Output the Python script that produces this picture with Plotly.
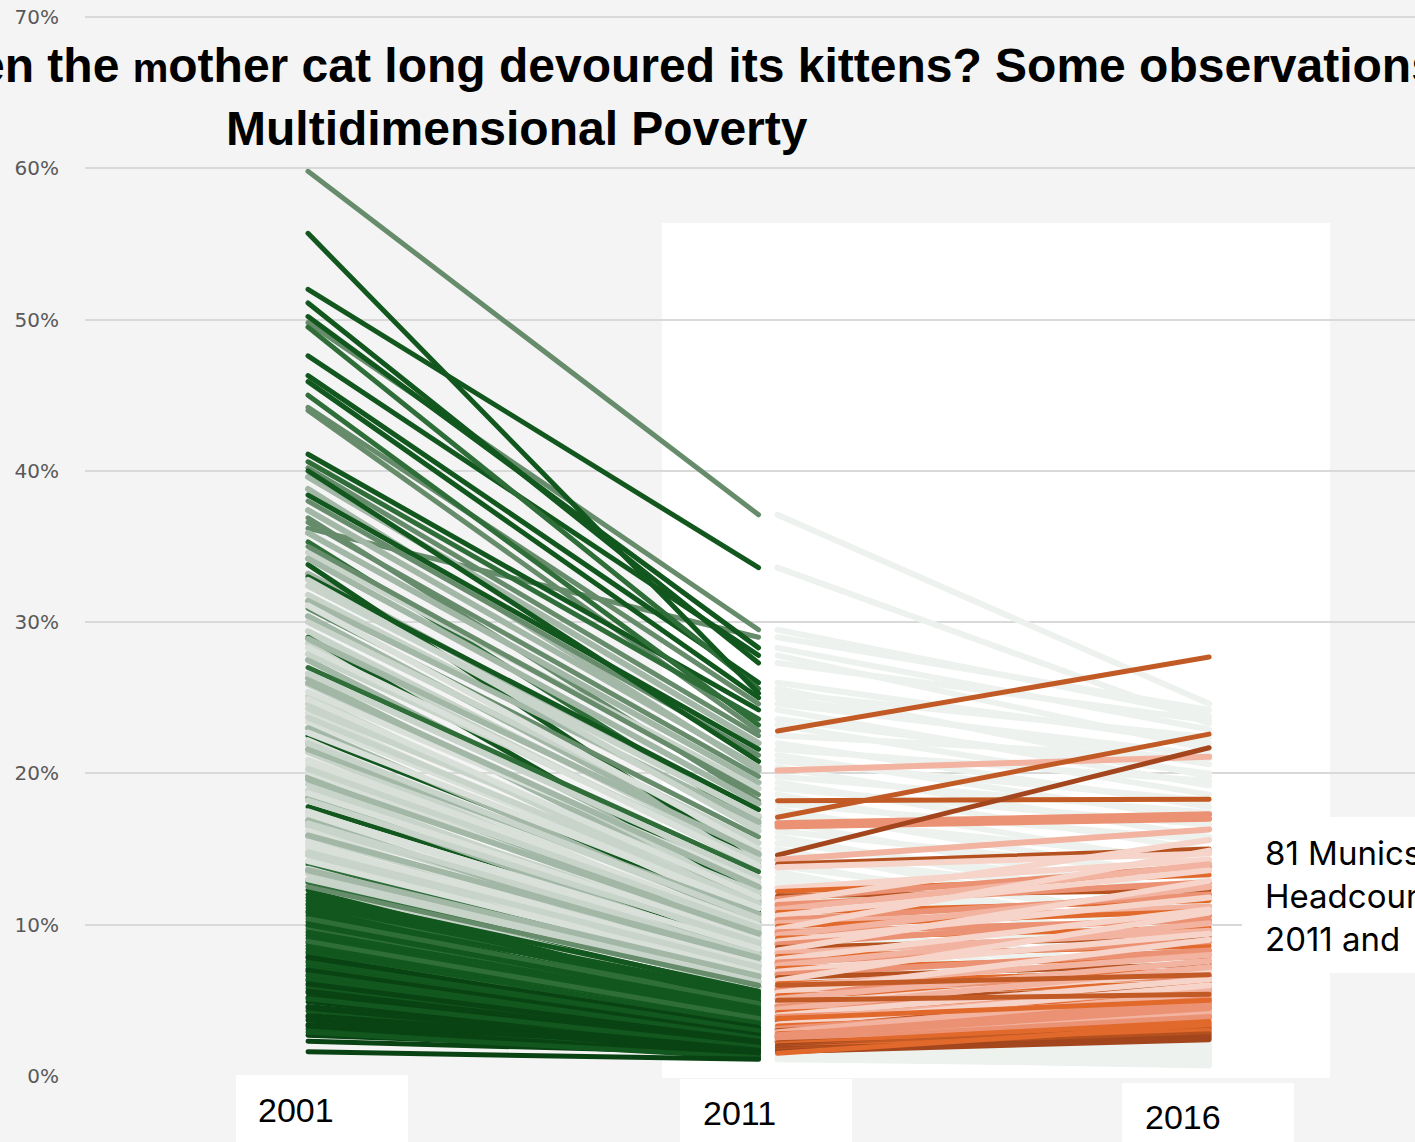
import plotly.graph_objects as go

# ---------------- data ----------------
years = ["2001", "2011", "2016"]
y_tick_vals = [0.0, 0.1, 0.2, 0.3, 0.4, 0.5, 0.6, 0.7]

# Municipalities whose headcount rose between 2011 and 2016 (81)
rise_2001 = [44.0, 38.8, 36.9, 33.2, 35.3, 31.8, 30.4, 29.4, 33.8, 28.6,
             27.5, 25.9, 29.0, 24.6, 26.3, 23.4, 25.1, 22.5, 24.0, 21.9,
             23.0, 20.6, 21.4, 19.8, 22.2, 18.9, 20.1, 17.8, 19.3, 17.2,
             18.4, 16.5, 17.5, 15.8, 16.9, 15.1, 14.6, 16.2, 14.0, 13.4,
             15.5, 12.9, 13.7, 12.3, 11.8, 12.6, 11.1, 10.6, 11.4, 10.2,
             9.7, 10.9, 9.3, 8.8, 9.9, 8.4, 8.1, 7.6, 7.9, 7.3,
             6.9, 7.1, 6.6, 6.3, 6.0, 5.8, 5.5, 5.2, 4.9, 4.6,
             4.3, 4.0, 3.7, 3.4, 3.1, 2.7, 2.3, 6.4, 8.6, 11.6, 12.8]
rise_2011 = [22.8, 20.2, 18.2, 17.1, 16.7, 16.5, 14.6, 14.3, 14.0, 13.8,
             12.4, 12.2, 11.9, 11.7, 11.5, 11.3, 11.0, 10.8, 10.6, 10.3,
             10.1, 9.9, 9.7, 9.5, 9.3, 9.1, 8.9, 8.7, 8.5, 8.3,
             8.1, 7.9, 7.7, 7.5, 7.3, 7.1, 6.9, 6.7, 6.5, 6.3,
             6.1, 5.9, 5.7, 5.5, 5.3, 5.1, 4.9, 4.7, 4.6, 4.4,
             4.2, 4.0, 3.9, 3.7, 3.6, 3.4, 3.3, 3.1, 3.0, 2.9,
             2.8, 2.7, 2.6, 2.5, 2.4, 2.3, 2.2, 2.1, 2.0, 1.9,
             1.9, 1.8, 1.8, 1.7, 1.6, 1.6, 1.5, 2.6, 3.8, 5.0, 6.0]
rise_2016 = [27.7, 21.1, 18.3, 22.6, 17.3, 17.0, 21.7, 16.3, 15.0, 14.7,
             14.3, 13.3, 12.3, 13.9, 15.6, 12.8, 14.0, 11.6, 13.6, 12.0,
             11.2, 10.9, 14.9, 10.3, 12.5, 9.8, 11.8, 10.6, 9.2, 12.9,
             9.6, 8.6, 11.0, 8.9, 10.1, 7.9, 9.4, 8.3, 7.4, 10.8,
             7.0, 8.0, 6.6, 9.0, 6.2, 7.6, 5.9, 6.9, 5.6, 7.2,
             5.3, 6.4, 4.9, 5.8, 4.6, 6.0, 4.4, 5.1, 4.0, 5.5,
             3.8, 4.8, 3.5, 4.2, 3.3, 3.9, 3.1, 3.6, 2.9, 3.2,
             2.7, 3.0, 2.5, 2.8, 2.6, 2.4, 3.4, 4.5, 5.0, 5.4, 6.7]

# Municipalities whose headcount fell between 2011 and 2016 (81)
fall_2001 = [59.8, 52.0, 49.8, 36.2, 50.2, 47.6, 51.1, 46.3, 49.5, 55.7,
             45.9, 44.2, 41.1, 40.6, 45.0, 40.2, 39.6, 38.4, 38.0, 40.0,
             37.4, 36.6, 35.9, 34.6, 35.0, 34.2, 33.0, 32.4, 31.4, 32.8,
             30.9, 30.0, 31.1, 28.9, 27.9, 28.3, 27.0, 26.6, 25.4, 26.0,
             24.3, 24.9, 23.7, 22.7, 21.6, 22.0, 20.9, 20.3, 19.6, 18.7,
             18.2, 17.4, 16.7, 15.9, 15.3, 14.8, 14.2, 13.6, 13.0, 12.5,
             12.0, 11.3, 10.8, 10.4, 10.0, 9.5, 9.1, 8.9, 8.2, 7.8,
             7.5, 7.0, 6.7, 6.1, 5.6, 5.1, 4.5, 3.9, 3.3, 2.9, 1.6]
fall_2011 = [37.1, 33.6, 29.5, 29.0, 28.3, 27.8, 27.3, 26.0, 25.6, 25.3,
             25.0, 24.6, 24.2, 23.6, 23.2, 22.5, 22.0, 21.6, 21.2, 20.8,
             20.4, 19.8, 19.4, 19.0, 18.6, 18.0, 17.6, 17.2, 16.8, 16.2,
             15.8, 15.4, 15.0, 14.7, 14.2, 13.9, 13.5, 13.1, 12.8, 12.5,
             12.1, 11.8, 11.4, 11.1, 10.7, 10.4, 10.0, 9.8, 9.4, 9.0,
             8.8, 8.4, 8.0, 7.8, 7.4, 7.2, 6.8, 6.6, 6.2, 6.0,
             5.6, 5.4, 5.2, 4.8, 4.5, 4.3, 4.1, 3.8, 3.5, 3.2,
             3.0, 2.7, 2.5, 2.3, 2.1, 1.9, 1.7, 1.5, 1.3, 1.2, 1.1]
fall_2016 = [24.6, 23.3, 23.8, 24.2, 22.9, 21.6, 23.5, 22.0, 19.8, 22.4,
             20.6, 21.2, 19.2, 20.0, 18.6, 21.0, 17.8, 19.5, 16.9, 18.2,
             15.8, 17.4, 14.9, 16.6, 13.8, 15.6, 12.9, 14.2, 11.7, 13.2,
             10.9, 12.1, 9.7, 11.3, 8.9, 10.2, 8.1, 9.4, 7.3, 8.6,
             6.8, 10.0, 6.1, 7.7, 5.6, 8.3, 5.0, 6.5, 4.7, 7.0,
             4.2, 5.9, 3.9, 6.2, 3.6, 5.2, 3.3, 4.6, 3.0, 4.1,
             2.8, 3.7, 2.5, 3.4, 2.3, 3.1, 2.1, 2.9, 2.0, 2.6,
             1.8, 2.2, 1.6, 1.9, 1.4, 1.5, 1.2, 1.0, 0.9, 0.7, 0.8]

# ---------------- styles (kept apart from the data) ----------------
GREENS = ["#0a4313", "#12571e", "#2f6e39", "#668c6b", "#a2b7a5", "#c8d4c9", "#d8e0d9"]
ORANGES = {"darkbrown": "#a3461d", "brown": "#b4511f", "burnt": "#c25a26",
           "orange": "#e2692c", "salmon": "#ec9274", "lightsalmon": "#f2b3a0",
           "pale": "#f7d4c9"}
FALL_RIGHT = "#edf2ee"

rise_green_tone = [3, 4, 3, 4, 2, 5, 4, 5, 1, 5,
                   4, 5, 1, 5, 4, 6, 5, 1, 6, 5,
                   4, 6, 5, 4, 6, 5, 6, 1, 5, 6,
                   4, 5, 6, 5, 4, 6, 5, 6, 2, 5,
                   6, 4, 5, 1, 1, 5, 1, 1, 2, 1,
                   2, 1, 1, 1, 2, 1, 2, 1, 0, 1,
                   0, 1, 0, 1, 0, 1, 0, 0, 0, 0,
                   1, 0, 0, 0, 1, 0, 0, 1, 1, 1, 2]
fall_green_tone = [3, 1, 3, 3, 1, 1, 1, 1, 2, 1,
                   1, 3, 1, 2, 2, 3, 4, 1, 3, 1,
                   4, 3, 4, 5, 3, 4, 1, 5, 4, 5,
                   3, 5, 6, 4, 5, 6, 2, 5, 6, 4,
                   5, 6, 5, 6, 4, 5, 6, 5, 4, 6,
                   5, 6, 5, 4, 6, 5, 6, 4, 5, 3,
                   1, 1, 1, 2, 1, 1, 1, 2, 1, 0,
                   1, 0, 1, 0, 0, 1, 0, 0, 0, 1, 0]
rise_orange_tone = ["burnt", "lightsalmon", "burnt", "burnt", "salmon", "salmon", "darkbrown", "lightsalmon", "brown", "pale",
                    "pale", "orange", "brown", "salmon", "pale", "salmon", "lightsalmon", "orange", "pale", "salmon",
                    "lightsalmon", "orange", "pale", "salmon", "lightsalmon", "orange", "pale", "salmon", "brown", "pale",
                    "lightsalmon", "orange", "pale", "salmon", "lightsalmon", "orange", "pale", "salmon", "brown", "pale",
                    "orange", "lightsalmon", "salmon", "pale", "orange", "lightsalmon", "brown", "pale", "salmon", "lightsalmon",
                    "orange", "pale", "salmon", "lightsalmon", "burnt", "pale", "orange", "salmon", "brown", "lightsalmon",
                    "orange", "salmon", "burnt", "lightsalmon", "orange", "salmon", "brown", "orange", "darkbrown", "burnt",
                    "darkbrown", "orange", "darkbrown", "brown", "darkbrown", "darkbrown", "orange", "salmon", "orange", "burnt", "burnt"]

# ---------------- geometry helpers ----------------
W, H = 1415, 1142
ML, MR, MT, MB = 85, 0, 14, 66
PLOT_W = W - ML - MR
PLOT_H = H - MT - MB


def px_x(p):
    return (p - ML) / PLOT_W


def px_y(p):
    return (H - MB - p) / PLOT_H


YEAR_X = [0.0, 1.0, 2.0]
GAP = 0.042
X_RANGE = [-0.495, 2.457]

fig = go.Figure()

# ---- left panel: 2001 -> 2011 ----
v2001 = rise_2001 + fall_2001
v2011 = rise_2011 + fall_2011
v2016 = rise_2016 + fall_2016
gtone = rise_green_tone + fall_green_tone

for a, b, t in zip(v2001, v2011, gtone):
    fig.add_trace(go.Scatter(
        x=[YEAR_X[0], YEAR_X[1]], y=[a / 100, b / 100], mode="lines",
        line=dict(color=GREENS[t], width=5 if t < 4 else 6),
        hoverinfo="skip", showlegend=False))

# ---- right panel: 2011 -> 2016, falling first (faint), then rising ----
for b, c in zip(fall_2011, fall_2016):
    fig.add_trace(go.Scatter(
        x=[YEAR_X[1] + GAP, YEAR_X[2]], y=[b / 100, c / 100], mode="lines",
        line=dict(color=FALL_RIGHT, width=6),
        hoverinfo="skip", showlegend=False))

for b, c, t in zip(rise_2011, rise_2016, rise_orange_tone):
    fig.add_trace(go.Scatter(
        x=[YEAR_X[1] + GAP, YEAR_X[2]], y=[b / 100, c / 100], mode="lines",
        line=dict(color=ORANGES[t], width=5 if t in ("darkbrown", "brown", "burnt", "orange") else 6),
        hoverinfo="skip", showlegend=False))

n_rise = sum(1 for b, c in zip(v2011, v2016) if c > b)

shapes = [
    # white panel behind 2011-2016
    dict(type="rect", xref="paper", yref="paper", layer="below",
         x0=px_x(662), x1=px_x(1330), y0=px_y(1078), y1=px_y(223),
         fillcolor="white", line=dict(width=0)),
    # note box
    dict(type="rect", xref="paper", yref="paper", layer="above",
         x0=px_x(1242), x1=px_x(1440), y0=px_y(973), y1=px_y(817),
         fillcolor="white", line=dict(width=0)),
]
label_boxes = [(236, 408, 1075), (680, 852, 1079), (1122, 1294, 1083)]
for x0, x1, y0 in label_boxes:
    shapes.append(dict(type="rect", xref="paper", yref="paper", layer="above",
                       x0=px_x(x0), x1=px_x(x1), y0=px_y(1150), y1=px_y(y0),
                       fillcolor="white", line=dict(width=0)))

annotations = []
label_pos = [(256, 1110), (701, 1113), (1143, 1117)]
for yr, (lx, ly) in zip(years, label_pos):
    annotations.append(dict(text=yr, xref="paper", yref="paper", x=px_x(lx), y=px_y(ly),
                            xanchor="left", yanchor="middle", showarrow=False,
                            font=dict(family="Liberation Sans, Arial, sans-serif", size=34, color="#000000")))

annotations.append(dict(
    text="<b>en the <span style='font-size:40px'>m</span>other cat long devoured its kittens? Some observations</b>",
    xref="paper", yref="paper", x=px_x(-24), y=px_y(66), xanchor="left", yanchor="middle",
    showarrow=False, font=dict(family="Liberation Sans, Arial, sans-serif", size=48, color="#000000")))
annotations.append(dict(
    text="<b>Multidimensional Poverty</b>",
    xref="paper", yref="paper", x=px_x(517), y=px_y(128), xanchor="center", yanchor="middle",
    showarrow=False, font=dict(family="Liberation Sans, Arial, sans-serif", size=48, color="#000000")))
annotations.append(dict(
    text=f"{n_rise} Munics with rising<br>Headcount between<br>2011 and",
    xref="paper", yref="paper", x=px_x(1263), y=px_y(896), xanchor="left", yanchor="middle",
    align="left", showarrow=False,
    font=dict(family="Inter, Open Sans, sans-serif", size=33, color="#000000")))

fig.update_layout(
    width=W, height=H,
    margin=dict(l=ML, r=MR, t=MT, b=MB, pad=0),
    paper_bgcolor="#f4f4f4", plot_bgcolor="rgba(0,0,0,0)",
    showlegend=False,
    xaxis=dict(range=X_RANGE, showgrid=False, zeroline=False, showticklabels=False,
               showline=False, ticks=""),
    yaxis=dict(range=[0, 0.702], tickvals=y_tick_vals, tickformat=".0%",
               showgrid=True, gridcolor="#d9d9d9", gridwidth=1.5, zeroline=False,
               showline=False, ticks="outside", ticklen=21, tickcolor="rgba(0,0,0,0)",
               tickfont=dict(family="DejaVu Sans, Verdana, sans-serif", size=20, color="#595959")),
    shapes=shapes, annotations=annotations,
)

post = ("document.body.style.margin='0';document.body.style.overflow='hidden';"
        "document.querySelectorAll('.scatterlayer path.js-line').forEach(function(p){"
        "p.style.strokeLinecap='round';});")
fig.write_html("out.html", post_script=post, config={"displayModeBar": False})
